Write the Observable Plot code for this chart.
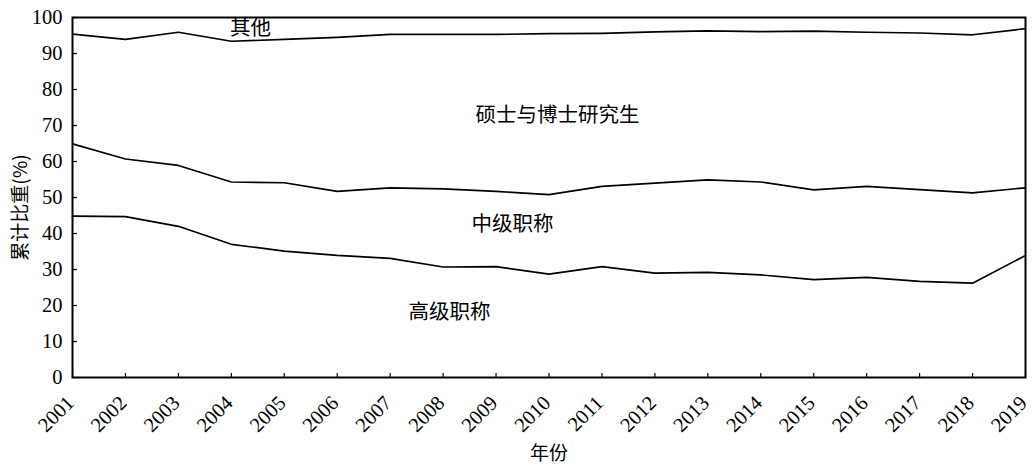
<!DOCTYPE html>
<html><head><meta charset="utf-8">
<script src="https://cdn.jsdelivr.net/npm/d3@7"></script>
<script src="https://cdn.jsdelivr.net/npm/@observablehq/plot@0.6"></script>
<style>
body{margin:0;background:#fff;}
#chart{width:1032px;height:466px;}
svg{font-family:"Liberation Serif","DejaVu Serif",serif;}
</style></head>
<body><div id="chart"></div>
<script>
const years = [2001,2002,2003,2004,2005,2006,2007,2008,2009,2010,2011,2012,2013,2014,2015,2016,2017,2018,2019];
// cumulative shares (%)
const senior = [44.8,44.7,42.0,37.0,35.1,33.9,33.1,30.7,30.8,28.7,30.8,29.0,29.2,28.5,27.2,27.8,26.7,26.2,33.9];
const seniorPlusMiddle = [64.9,60.7,58.9,54.3,54.1,51.7,52.7,52.4,51.7,50.8,53.1,54.0,54.9,54.3,52.1,53.1,52.2,51.3,52.7];
const plusGraduate = [95.4,93.9,95.9,93.4,93.9,94.5,95.3,95.3,95.3,95.5,95.6,96.0,96.3,96.1,96.2,95.9,95.7,95.2,96.9];
const yTicks = [0,10,20,30,40,50,60,70,80,90,100];
const labelText = ["其他","硕士与博士研究生","中级职称","高级职称"];
const labelX = [2004.36,2010.16,2009.31,2008.12];
const labelY = [96.9,72.8,42.5,18.1];

const series = [senior, seniorPlusMiddle, plusGraduate];
const lineData = series.flatMap((s,i)=>s.map((v,j)=>({year:years[j], value:v, k:i})));
const labels = labelText.map((t,i)=>({t, x:labelX[i], y:labelY[i]}));

const chart = Plot.plot({
  width:1032, height:466,
  marginLeft:72, marginRight:7, marginTop:17, marginBottom:89,
  x:{domain:[2001,2019]},
  y:{domain:[0,100]},
  marks:[
    Plot.axisX({ticks:years, tickSize:-4, tickFormat:()=>"", stroke:"black", strokeWidth:1.2}),
    Plot.text(years, {x:d=>d, text:d=>String(d), frameAnchor:"bottom", rotate:-45, textAnchor:"end", lineAnchor:"middle", dx:-2, dy:22, fontSize:20.5, fill:"black", fontFamily:"Liberation Serif"}),
    Plot.axisY({ticks:yTicks, tickSize:-5, tickFormat:()=>"", stroke:"black", strokeWidth:1.2}),
    Plot.axisY({ticks:yTicks, tickSize:0, tickPadding:10, fontSize:20.5, fill:"black", label:null}),
    Plot.frame({stroke:"black", strokeWidth:2}),
    Plot.line(lineData, {x:"year", y:"value", z:"k", stroke:"black", strokeWidth:1.7}),
    Plot.text(labels, {x:"x", y:"y", text:"t", fontSize:20.5, fill:"black", fontFamily:"Noto Sans CJK SC"}),
    Plot.text(["年份"], {frameAnchor:"bottom", dy:82, fontSize:19, fill:"black", fontFamily:"Noto Sans CJK SC"}),
    Plot.text(["累计比重(%)"], {frameAnchor:"left", textAnchor:"middle", dx:-52, dy:10, rotate:-90, fontSize:19, fill:"black", fontFamily:"Noto Sans CJK SC"})
  ]
});
document.getElementById("chart").appendChild(chart);
</script>
</body></html>
